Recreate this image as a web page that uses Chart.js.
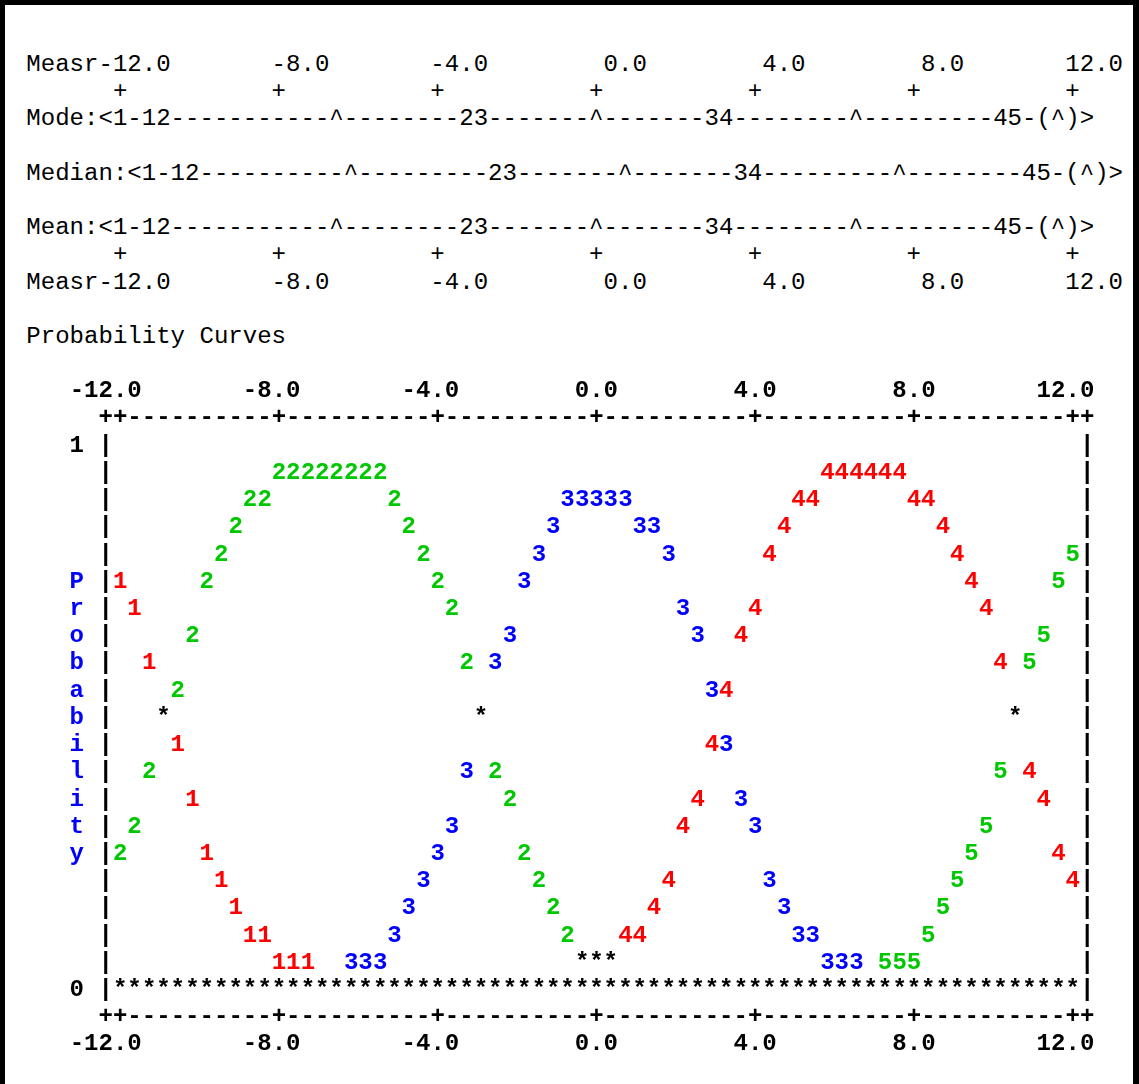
<!DOCTYPE html>
<html>
<head>
<meta charset="utf-8">
<script src="https://cdn.jsdelivr.net/npm/chart.js@4"></script>
<style>
  html, body { margin: 0; padding: 0; background: #fff; }
  body { width: 1139px; height: 1084px; position: relative; overflow: hidden; }
  #frame {
    position: absolute; left: 0; top: 0; width: 1139px; height: 1084px;
    box-sizing: border-box;
    border-left: 5px solid #000; border-top: 5px solid #000; border-right: 6px solid #000;
  }
  #head {
    position: absolute; left: 26.3px; top: 50.9px; margin: 0;
    font-family: "Liberation Mono", monospace; font-size: 24.05px; line-height: 27.22px;
    color: #000; white-space: pre;
  }
  #plot { position: absolute; left: 0; top: 360px; width: 1139px; height: 724px; }
</style>
</head>
<body>
<div id="frame"></div>
<pre id="head">Measr-12.0       -8.0       -4.0        0.0        4.0        8.0       12.0
      +          +          +          +          +          +          +
Mode:&lt;1-12-----------^--------23-------^-------34--------^---------45-(^)&gt;

Median:&lt;1-12----------^---------23-------^-------34---------^--------45-(^)&gt;

Mean:&lt;1-12-----------^--------23-------^-------34--------^---------45-(^)&gt;
      +          +          +          +          +          +          +
Measr-12.0       -8.0       -4.0        0.0        4.0        8.0       12.0

Probability Curves</pre>
<div id="plot"><canvas id="chart" width="1139" height="724"></canvas></div>
<script>
// measure (logits) of every character position
const xTicks = [-12, -8, -4, 0, 4, 8, 12];
const xTickLabels = ['-12.0', '-8.0', '-4.0', '0.0', '4.0', '8.0', '12.0'];
const yRows = [1, 0.95, 0.9, 0.85, 0.8, 0.75, 0.7, 0.65, 0.6, 0.55, 0.5,
               0.45, 0.4, 0.35, 0.3, 0.25, 0.2, 0.15, 0.1, 0.05, 0];
const yRowLabels = ['1', '', '', '', '', 'P', 'r', 'o', 'b', 'a', 'b',
                    'i', 'l', 'i', 't', 'y', '', '', '', '', '0'];

const cat1X = [-12.00, -11.64, -11.27, -10.55, -10.18, -9.82, -9.45, -9.09, -8.73, -8.36, -8.00, -7.64, -7.27];
const cat1Y = [0.75, 0.70, 0.60, 0.45, 0.35, 0.25, 0.20, 0.15, 0.10, 0.10, 0.05, 0.05, 0.05];

const cat2X = [-12.00, -11.64, -11.27, -10.55, -10.18, -9.82, -9.45, -9.09, -8.73, -8.36,
               -8.00, -7.64, -7.27, -6.91, -6.55, -6.18, -5.82, -5.45,
               -5.09, -4.73, -4.36, -4.00, -3.64, -3.27, -2.55, -2.18, -1.82, -1.45, -1.09, -0.73];
const cat2Y = [0.25, 0.30, 0.40, 0.55, 0.65, 0.75, 0.80, 0.85, 0.90, 0.90,
               0.95, 0.95, 0.95, 0.95, 0.95, 0.95, 0.95, 0.95,
               0.90, 0.85, 0.80, 0.75, 0.70, 0.60, 0.40, 0.35, 0.25, 0.20, 0.15, 0.10];

const cat3X = [-6.18, -5.82, -5.45, -5.09, -4.73, -4.36, -4.00, -3.64, -3.27, -2.55, -2.18,
               -1.82, -1.45, -1.09, -0.73, -0.36, 0.00, 0.36, 0.73, 1.09, 1.45, 1.82,
               2.18, 2.55, 2.91, 3.27, 3.64, 4.00, 4.36, 4.73, 5.09, 5.45, 5.82, 6.18, 6.55];
const cat3Y = [0.05, 0.05, 0.05, 0.10, 0.15, 0.20, 0.25, 0.30, 0.40, 0.60, 0.65,
               0.75, 0.80, 0.85, 0.90, 0.90, 0.90, 0.90, 0.90, 0.85, 0.85, 0.80,
               0.70, 0.65, 0.55, 0.45, 0.35, 0.30, 0.20, 0.15, 0.10, 0.10, 0.05, 0.05, 0.05];

const cat4X = [0.73, 1.09, 1.45, 1.82, 2.18, 2.55, 2.91, 3.27, 3.64, 4.00, 4.36, 4.73, 5.09, 5.45,
               5.82, 6.18, 6.55, 6.91, 7.27, 7.64, 8.00, 8.36, 8.73, 9.09, 9.45, 9.82,
               10.18, 10.91, 11.27, 11.64, 12.00];
const cat4Y = [0.10, 0.10, 0.15, 0.20, 0.30, 0.35, 0.45, 0.55, 0.65, 0.70, 0.80, 0.85, 0.90, 0.90,
               0.95, 0.95, 0.95, 0.95, 0.95, 0.95, 0.90, 0.90, 0.85, 0.80, 0.75, 0.70,
               0.60, 0.40, 0.35, 0.25, 0.20];

const cat5X = [7.27, 7.64, 8.00, 8.36, 8.73, 9.09, 9.45, 9.82, 10.18, 10.91, 11.27, 11.64, 12.00];
const cat5Y = [0.05, 0.05, 0.05, 0.10, 0.15, 0.20, 0.25, 0.30, 0.40, 0.60, 0.65, 0.75, 0.80];

// '*' where two curves print on the same spot
const overlapX = [-10.91, -2.91, 10.55, -0.36, 0.00, 0.36];
const overlapY = [0.50, 0.50, 0.50, 0.05, 0.05, 0.05];

// bottom row: every curve but one is at zero
const baseX = [-12.00, -11.64, -11.27, -10.91, -10.55, -10.18, -9.82, -9.45, -9.09, -8.73, -8.36,
               -8.00, -7.64, -7.27, -6.91, -6.55, -6.18, -5.82, -5.45, -5.09, -4.73, -4.36,
               -4.00, -3.64, -3.27, -2.91, -2.55, -2.18, -1.82, -1.45, -1.09, -0.73, -0.36,
               0.00, 0.36, 0.73, 1.09, 1.45, 1.82, 2.18, 2.55, 2.91, 3.27, 3.64,
               4.00, 4.36, 4.73, 5.09, 5.45, 5.82, 6.18, 6.55, 6.91, 7.27, 7.64,
               8.00, 8.36, 8.73, 9.09, 9.45, 9.82, 10.18, 10.55, 10.91, 11.27, 11.64, 12.00];
const baseY = 0;

const RED = '#ff0000', GREEN = '#00c800', BLUE = '#0000ff', BLACK = '#000000';
const FONT = '"Liberation Mono", monospace';
const FS = 24.05;
const COL = 4 / 11;               // one character column, in logits
const X_MIN = -12 - COL, X_MAX = 12 + COL;
const ROW = 0.05;

const pts = (xs, ys) => xs.map((x, i) => ({ x, y: Array.isArray(ys) ? ys[i] : ys }));

function series(glyph, color, xs, ys) {
  return { label: glyph, glyph, glyphColor: color, data: pts(xs, ys), pointRadius: 0, pointHoverRadius: 0 };
}

// draws the ascii frame and the plotted characters at scale positions
const asciiPlot = {
  id: 'asciiPlot',
  afterDatasetsDraw(chart) {
    const { ctx, scales: { x, y } } = chart;
    ctx.save();
    ctx.font = 'bold ' + FS + 'px ' + FONT;
    ctx.textAlign = 'center';
    ctx.textBaseline = 'middle';
    ctx.fillStyle = BLACK;

    const tickCols = xTicks.map(v => Math.round((v - X_MIN) / COL));
    for (let c = 0; c <= 68; c++) {
      const px = x.getPixelForValue(X_MIN + c * COL);
      const ch = (c === 0 || c === 68 || tickCols.includes(c)) ? '+' : '-';
      ctx.fillText(ch, px, y.getPixelForValue(1 + ROW));
      ctx.fillText(ch, px, y.getPixelForValue(-ROW));
    }
    yRows.forEach(v => {
      const py = y.getPixelForValue(v);
      ctx.fillText('|', x.getPixelForValue(X_MIN), py);
      ctx.fillText('|', x.getPixelForValue(X_MAX), py);
    });

    chart.data.datasets.forEach((ds, i) => {
      ctx.fillStyle = ds.glyphColor;
      chart.getDatasetMeta(i).data.forEach(el => ctx.fillText(ds.glyph, el.x, el.y));
    });
    ctx.restore();
  }
};

const tickFont = { family: FONT, size: FS, weight: 'bold', lineHeight: 1 };

// pad so that the decimal point sits on the tick
function centred(label) {
  const dot = label.indexOf('.');
  const pad = dot - (label.length - dot - 1);
  return label + ' '.repeat(Math.max(0, pad));
}

function xAxis(position, height, padding) {
  return {
    type: 'linear',
    position,
    min: X_MIN,
    max: X_MAX,
    grid: { display: false, drawTicks: false },
    border: { display: false },
    afterBuildTicks: s => { s.ticks = xTicks.map(v => ({ value: v })); },
    afterFit: s => { s.height = height; },
    ticks: {
      autoSkip: false,
      maxRotation: 0,
      padding,
      color: BLACK,
      font: tickFont,
      callback: (v, i) => centred(xTickLabels[i])
    }
  };
}

new Chart(document.getElementById('chart'), {
  type: 'scatter',
  data: {
    datasets: [
      series('*', BLACK, baseX, baseY),
      series('*', BLACK, overlapX, overlapY),
      series('1', RED, cat1X, cat1Y),
      series('2', GREEN, cat2X, cat2Y),
      series('3', BLUE, cat3X, cat3Y),
      series('4', RED, cat4X, cat4Y),
      series('5', GREEN, cat5X, cat5Y)
    ]
  },
  options: {
    responsive: false,
    animation: false,
    devicePixelRatio: 1,
    events: [],
    layout: { padding: { left: 0, right: 51.9, top: 0, bottom: 0 } },
    plugins: { legend: { display: false }, tooltip: { enabled: false } },
    scales: {
      x: xAxis('bottom', 66.8, 15.2),
      x2: xAxis('top', 58.4, 15.3),
      y: {
        type: 'linear',
        min: -ROW,
        max: 1 + ROW,
        grid: { display: false, drawTicks: false },
        border: { display: false },
        afterBuildTicks: s => { s.ticks = yRows.slice().reverse().map(v => ({ value: v })); },
        afterFit: s => { s.width = 105.7; },
        ticks: {
          autoSkip: false,
          padding: 21.65,
          font: tickFont,
          color: c => (c.tick && (c.tick.value === 0 || c.tick.value === 1)) ? BLACK : BLUE,
          callback: v => yRowLabels[Math.round((1 - v) / ROW)]
        }
      }
    }
  },
  plugins: [asciiPlot]
});
</script>
</body>
</html>
